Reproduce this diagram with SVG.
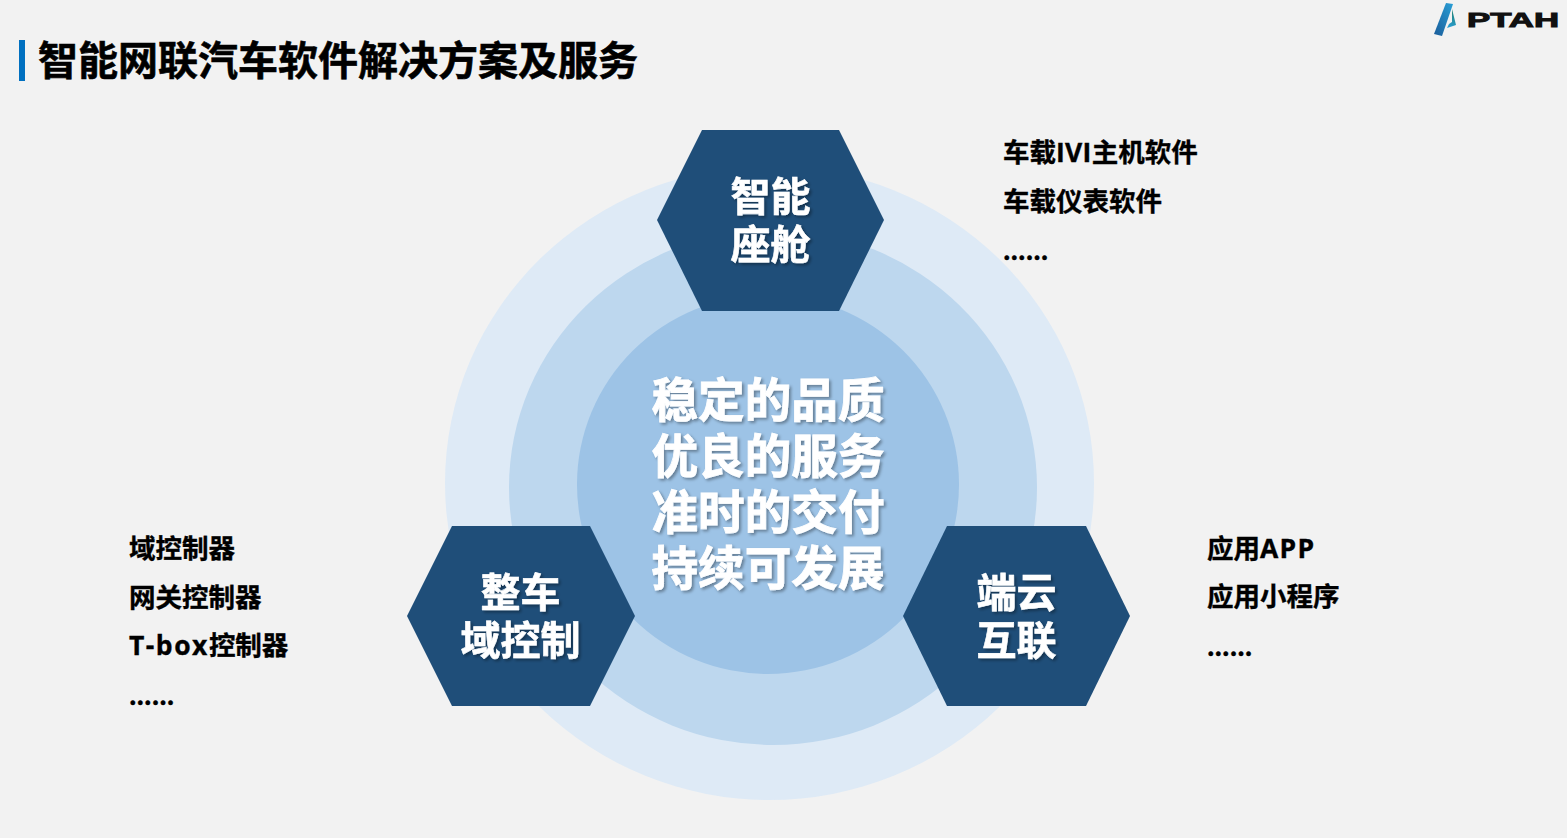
<svg xmlns="http://www.w3.org/2000/svg" width="1567" height="838" viewBox="0 0 1567 838">
<defs>
<linearGradient id="lg" x1="0" y1="1" x2="1" y2="0"><stop offset="0" stop-color="#1a5c9a"/><stop offset="1" stop-color="#2a9fd6"/></linearGradient>
<linearGradient id="lt" x1="0.5" y1="0" x2="0.3" y2="1"><stop offset="0" stop-color="#1f7f6e"/><stop offset="1" stop-color="#2a9fd6"/></linearGradient>
<filter id="sh" x="-10%" y="-10%" width="120%" height="125%"><feDropShadow dx="2" dy="2" stdDeviation="1.5" flood-color="#000" flood-opacity="0.35"/></filter>
</defs>
<style>
text{font-family:"Open Sans","Noto Sans CJK SC",sans-serif;font-weight:700}
.hex{fill:#1f4e79}
.hl{font-size:40px;fill:#fff;stroke:#fff;stroke-width:.6px;text-anchor:middle;filter:url(#sh)}
.ct{font-size:46.6px;fill:#fff;stroke:#fff;stroke-width:.8px;text-anchor:middle;filter:url(#sh)}
.lb{font-size:26.5px;fill:#000;stroke:#000;stroke-width:.35px}
</style>
<rect width="1567" height="838" fill="#f2f2f2"/>
<g id="logo">
<polygon points="1446,3 1453,4 1442,36 1434,34" fill="url(#lg)"/>
<polygon points="1452,9 1456,25 1447,28 1449,24 1452,22" fill="url(#lt)"/>
<text x="1467" y="27" font-size="21" textLength="92" lengthAdjust="spacingAndGlyphs" style="font-family:'Liberation Sans',sans-serif;font-weight:700;stroke:#111;stroke-width:1px" fill="#111">PTAH</text>
</g>
<g id="title">
<rect x="19" y="40" width="6" height="41" fill="#0070c0"/>
<text x="38" y="75" font-size="40" fill="#000" stroke="#000" stroke-width=".6">智能网联汽车软件解决方案及服务</text>
</g>
<g id="rings">
<ellipse cx="769.5" cy="483" rx="324.5" ry="317" fill="#deeaf6"/>
<ellipse cx="773" cy="487.500" rx="264" ry="257.500" fill="#bdd7ee"/>
<ellipse cx="768" cy="484.500" rx="191" ry="189.500" fill="#9dc3e6"/>
</g>
<g id="connectors"></g>
<g id="center"><text class="ct"><tspan x="768" y="417">稳定的品质</tspan><tspan x="768" y="473">优良的服务</tspan><tspan x="768" y="529">准时的交付</tspan><tspan x="768" y="585">持续可发展</tspan></text></g>
<g id="node-cockpit"><polygon class="hex" points="657,220 702,130 839,130 884,220 839,311 702,311"/><text class="hl"><tspan x="770.500" y="211">智能</tspan><tspan x="770.500" y="259">座舱</tspan></text></g>
<g id="node-domain"><polygon class="hex" points="407,616 452,526 590,526 635,616 590,706 452,706"/><text class="hl"><tspan x="520.500" y="607">整车</tspan><tspan x="520.500" y="655">域控制</tspan></text></g>
<g id="node-cloud"><polygon class="hex" points="903,616 947,526 1086,526 1130,616 1086,706 947,706"/><text class="hl"><tspan x="1016.500" y="607">端云</tspan><tspan x="1016.500" y="655">互联</tspan></text></g>
<g id="list-cockpit"><text class="lb" x="1003" y="162">车载<tspan letter-spacing=".3">IVI</tspan>主机软件</text><text class="lb" x="1003" y="211">车载仪表软件</text><text class="lb" x="1003" y="260">......</text></g>
<g id="list-domain"><text class="lb" x="129" y="558">域控制器</text><text class="lb" x="129" y="607">网关控制器</text><text class="lb" x="129" y="655"><tspan letter-spacing="1.500">T-box</tspan>控制器</text><text class="lb" x="129" y="705">......</text></g>
<g id="list-cloud"><text class="lb" x="1207" y="558">应用<tspan letter-spacing="1.300">APP</tspan></text><text class="lb" x="1207" y="606">应用小程序</text><text class="lb" x="1207" y="656">......</text></g>
</svg>
